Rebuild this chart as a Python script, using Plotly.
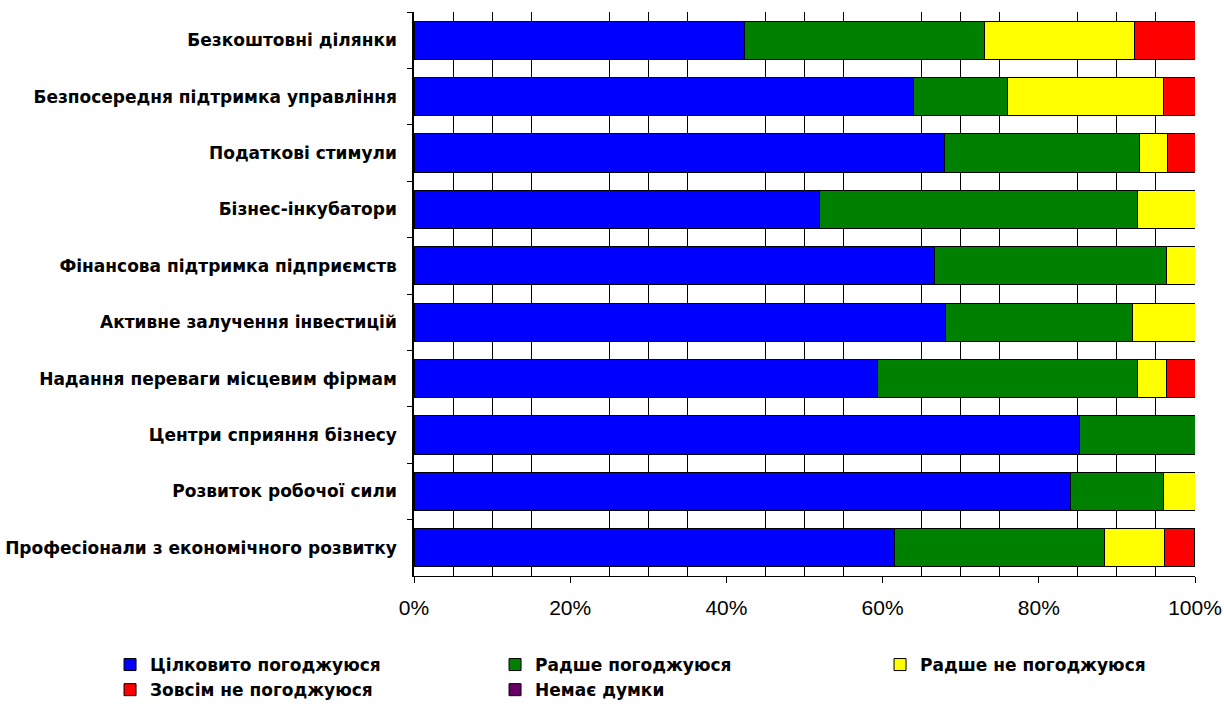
import plotly.graph_objects as go

# categories, top to bottom as in the source chart
categories = [
    "Безкоштовні ділянки",
    "Безпосередня підтримка управління",
    "Податкові стимули",
    "Бізнес-інкубатори",
    "Фінансова підтримка підприємств",
    "Активне залучення інвестицій",
    "Надання переваги місцевим фірмам",
    "Центри сприяння бізнесу",
    "Розвиток робочої сили",
    "Професіонали з економічного розвитку",
]

# shares of answers, %
fully_agree = [42.3, 64.0, 67.9, 51.9, 66.7, 68.0, 59.3, 85.2, 84.0, 61.5]
rather_agree = [30.8, 12.0, 25.0, 40.7, 29.6, 24.0, 33.3, 14.8, 12.0, 26.9]
rather_disagree = [19.2, 20.0, 3.6, 7.4, 3.7, 8.0, 3.7, 0.0, 4.0, 7.7]
fully_disagree = [7.7, 4.0, 3.6, 0.0, 0.0, 0.0, 3.7, 0.0, 0.0, 3.8]
no_opinion = [0, 0, 0, 0, 0, 0, 0, 0, 0, 0]

series_names = ["Цілковито погоджуюся", "Радше погоджуюся", "Радше не погоджуюся",
                "Зовсім не погоджуюся", "Немає думки"]
series_values = [fully_agree, rather_agree, rather_disagree, fully_disagree, no_opinion]
series_colors = ["#0000FF", "#008000", "#FFFF00", "#FF0000", "#660066"]
# legend entry widths (last column narrower so the legend fits the page)
legend_widths = [340, 340, 245, 340, 340]

# minor grid positions (every 5% apart from the labelled ticks)
grid_vals = [5, 10, 15, 25, 30, 35, 45, 50, 55, 65, 70, 75, 85, 90, 95]

label_font = "DejaVu Sans, Liberation Sans, Arial, sans-serif"

fig = go.Figure()
for name, vals, col, lw in zip(series_names, series_values, series_colors, legend_widths):
    fig.add_trace(go.Bar(
        y=categories, x=vals, name=name, orientation="h",
        marker=dict(color=col, line=dict(color="black", width=1)),
        legendwidth=lw,
    ))

fig.update_layout(
    width=1224, height=709,
    barmode="stack", bargap=0.32,
    plot_bgcolor="white", paper_bgcolor="white",
    margin=dict(l=414, r=29, t=12, b=133, autoexpand=False),
    font=dict(family="Liberation Sans, Arial, sans-serif", color="black"),
    legend=dict(
        orientation="h", x=-0.3892, xanchor="left", y=-0.1259, yanchor="top",
        entrywidthmode="pixels",
        font=dict(size=17, family=label_font, weight="bold"),
        traceorder="normal",
    ),
)

fig.update_xaxes(
    range=[0, 100], tickmode="linear", tick0=0, dtick=20, ticksuffix="%",
    showgrid=False, zeroline=False, automargin=False,
    showline=True, linecolor="black", linewidth=1,
    ticks="outside", ticklen=6, tickcolor="black",
    ticklabelstandoff=7,
    tickfont=dict(size=21),
    minor=dict(tickmode="array", tickvals=grid_vals, showgrid=True,
               gridcolor="black", gridwidth=1, ticks=""),
)

fig.update_yaxes(
    categoryorder="array", categoryarray=categories, autorange="reversed",
    automargin=False,
    showline=True, linecolor="black", linewidth=1.5,
    ticks="outside", ticklen=5, tickcolor="black", tickson="boundaries",
    ticklabelstandoff=12,
    tickfont=dict(size=17, family=label_font, weight="bold"),
    showgrid=False,
)

# drop the default 8px page margin so the figure fills the window exactly
fig.write_html("out.html", config={"displayModeBar": False},
               post_script="document.body.style.margin = '0';")
